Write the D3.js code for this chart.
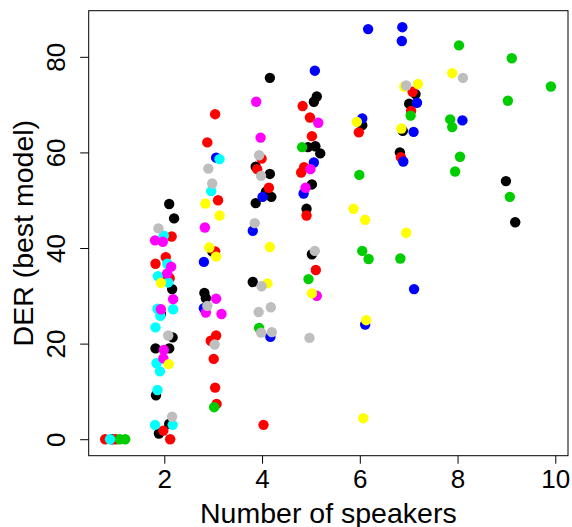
<!DOCTYPE html>
<html>
<head>
<meta charset="utf-8">
<script src="https://cdn.jsdelivr.net/npm/d3@7"></script>
<style>
	body { margin: 0; background: #fff; }
	svg { display: block; }
	text { font-family: "Liberation Sans", Arial, Helvetica, sans-serif; fill: #000; }
</style>
</head>
<body>
<div class="chart__der"><svg></svg></div>
<script>
(function() {

	// VALUES: [number of speakers (jittered), DER]
	var derBlack = [[0.93,0],[2.10,49.2],[2.20,46.2],[2.16,31.4],[1.93,26.2],[2.17,21.3],[1.82,19.0],[2.10,19.0],[1.83,9.2],[2.10,3.2],[1.89,1.2],
		[2.98,39.3],[2.82,30.6],[2.85,29.5],
		[4.16,75.6],[3.87,57.0],[4.16,55.5],[4.08,51.8],[4.19,50.7],[3.87,49.4],[3.81,32.9],
		[5.12,71.7],[5.06,70.6],[4.94,61.1],[5.09,61.3],[5.19,59.8],[5.02,53.3],[4.91,48.2],[5.02,38.7],
		[6.05,65.7],[7.14,72.2],[7.01,70.2],[6.88,64.5],[6.82,60.0],[8.99,54.0],[9.18,45.4]]
	var derRed = [[0.79,0],[1.01,0],[2.15,42.4],[2.03,38.1],[1.82,36.7],[2.02,34.0],[2.11,33.7],[1.98,1.8],[2.12,0],
		[3.04,68.0],[2.88,62.1],[3.10,50.0],[3.04,39.3],[3.06,21.7],[2.95,20.6],[3.01,16.8],[3.04,10.8],[3.07,7.4],
		[3.99,58.7],[3.90,56.5],[4.14,52.6],[4.03,3.0],
		[4.83,69.7],[4.98,67.3],[5.02,63.4],[4.86,56.9],[4.80,55.8],[4.91,46.8],[5.10,35.4],
		[5.98,64.2],[7.08,72.7],[7.05,68.7],[6.84,59.0]]
	var derGreen = [[1.09,0],[1.20,0],[3.02,6.7],[3.94,23.3],[4.82,61.1],[4.95,33.5],
		[5.99,55.3],[6.05,39.4],[6.18,37.7],[7.04,67.7],[6.83,37.8],
		[8.03,82.4],[7.85,66.9],[7.89,65.3],[8.05,59.1],[7.95,56.0],
		[9.11,79.7],[9.03,70.8],[9.07,50.7],[9.91,73.8]]
	var derBlue = [[3.06,58.9],[2.81,37.1],[2.81,27.4],[4.01,50.7],[3.81,43.6],[4.17,21.4],
		[5.08,77.1],[5.06,57.9],[4.85,51.4],[6.17,85.8],[6.05,67.1],[6.11,24.0],
		[6.87,86.2],[6.86,83.3],[7.17,70.4],[7.10,64.3],[6.89,58.1],[7.11,31.4],[8.10,66.7]]
	var derCyan = [[0.89,0],[1.99,42.6],[2.06,36.7],[1.87,34.1],[2.08,32.8],[1.86,27.3],[2.18,27.2],[1.92,25.8],
		[1.82,23.4],[1.84,15.9],[1.91,14.2],[1.86,10.3],[1.81,3.0],[2.17,3.0],[3.13,58.6],[2.96,51.9]]
	var derMagenta = [[1.81,41.6],[1.97,41.3],[2.14,36.1],[2.06,34.7],[2.18,29.3],[1.93,27.2],[1.99,18.7],[1.98,16.9],
		[2.83,44.3],[3.06,29.4],[2.85,26.5],[3.17,26.2],[3.88,70.6],[3.97,63.1],
		[5.15,66.2],[4.99,56.5],[4.89,52.6],[5.12,30.0]]
	var derYellow = [[1.93,32.7],[2.09,15.7],[2.84,49.3],[3.13,46.8],[2.92,40.1],[3.06,38.2],[4.16,40.2],[4.11,32.6],
		[5.02,30.5],[5.94,66.4],[5.87,48.2],[6.11,45.9],[6.13,24.9],[6.07,4.4],
		[7.19,74.3],[6.91,73.8],[6.85,65.0],[6.95,43.2],[7.89,76.6]]
	var derGray = [[1.88,44.1],[2.08,21.7],[2.16,4.7],[2.90,56.6],[2.98,53.5],[2.88,27.9],[3.03,19.8],
		[3.94,59.4],[3.98,55.1],[3.85,45.2],[3.99,32.0],[3.93,26.6],[4.18,27.6],[3.98,22.3],[4.20,22.4],
		[5.08,39.4],[4.97,21.2],[6.95,74.0],[8.11,75.6]]

	var xTicks = [2, 4, 6, 8, 10]
	var yTicks = [0, 20, 40, 60, 80]
	var xLabel = 'Number of speakers'
	var yLabel = 'DER (best model)'

	// drawing order, R default palette
	var layers = [
		{ key: 'black', values: derBlack },
		{ key: 'red', values: derRed },
		{ key: 'green', values: derGreen },
		{ key: 'blue', values: derBlue },
		{ key: 'cyan', values: derCyan },
		{ key: 'magenta', values: derMagenta },
		{ key: 'yellow', values: derYellow },
		{ key: 'gray', values: derGray }
	]
	var palette = { black: '#000000', red: '#FF0000', green: '#00CD00', blue: '#0000FF',
		cyan: '#00FFFF', magenta: '#FF00FF', yellow: '#FFFF00', gray: '#BEBEBE' }

	// VARS
	var svgWidth = 572
	var svgHeight = 527
	var margin = { top: 10.7, right: 4, bottom: 71.3, left: 88.7 }
	var width = svgWidth - margin.left - margin.right
	var height = svgHeight - margin.top - margin.bottom
	var radius = 5.2

	var svg = d3.select('.chart__der svg')
		.attr('width', svgWidth)
		.attr('height', svgHeight)

	var g = svg.append('g')
		.attr('transform', 'translate(' + margin.left + ',' + margin.top + ')')

	// R style axes: 4% padding around the data range
	var x = d3.scaleLinear().domain([0.453, 10.26]).range([0, width])
	var y = d3.scaleLinear().domain([-3.45, 89.65]).range([height, 0])

	function drawPoints() {
		var layer = g.selectAll('.layer')
			.data(layers)
			.enter().append('g')
			.attr('class', function(d) { return 'layer ' + d.key })
			.style('fill', function(d) { return palette[d.key] })

		layer.selectAll('circle')
			.data(function(d) { return d.values })
			.enter().append('circle')
			.attr('cx', function(d) { return x(d[0]) })
			.attr('cy', function(d) { return y(d[1]) })
			.attr('r', radius)
	}

	function drawAxes() {
		var axisX = d3.axisBottom(x)
			.tickValues(xTicks)
			.tickSize(8)
			.tickSizeOuter(0)

		var gx = g.append('g')
			.attr('class', 'axis axis--x')
			.attr('transform', 'translate(0,' + height + ')')
			.call(axisX)

		gx.select('.domain').remove()
		gx.selectAll('line').attr('stroke', '#000')
		gx.selectAll('text')
			.attr('y', 32.5)
			.attr('dy', 0)
			.style('font-size', '26px')

		var axisY = d3.axisLeft(y)
			.tickValues(yTicks)
			.tickSize(8.5)
			.tickSizeOuter(0)

		var gy = g.append('g')
			.attr('class', 'axis axis--y')
			.call(axisY)

		gy.select('.domain').remove()
		gy.selectAll('line').attr('stroke', '#000')
		gy.selectAll('text')
			.attr('transform', 'rotate(-90)')
			.attr('x', 0)
			.attr('y', -23.7)
			.attr('dy', 0)
			.attr('text-anchor', 'middle')
			.style('font-size', '26px')
	}

	function drawFrame() {
		g.append('rect')
			.attr('class', 'frame')
			.attr('x', 0)
			.attr('y', 0)
			.attr('width', width)
			.attr('height', height)
			.attr('fill', 'none')
			.attr('stroke', '#000')
			.attr('stroke-width', 1)
	}

	function drawLabels() {
		svg.append('text')
			.attr('class', 'label--x')
			.attr('text-anchor', 'middle')
			.attr('x', margin.left + width / 2)
			.attr('y', 523)
			.style('font-size', '28.5px')
			.text(xLabel)

		svg.append('text')
			.attr('class', 'label--y')
			.attr('text-anchor', 'middle')
			.attr('transform', 'translate(32.5,' + (margin.top + height / 2) + ')rotate(-90)')
			.style('font-size', '28.5px')
			.text(yLabel)
	}

	drawPoints()
	drawFrame()
	drawAxes()
	drawLabels()
})()
</script>
</body>
</html>
